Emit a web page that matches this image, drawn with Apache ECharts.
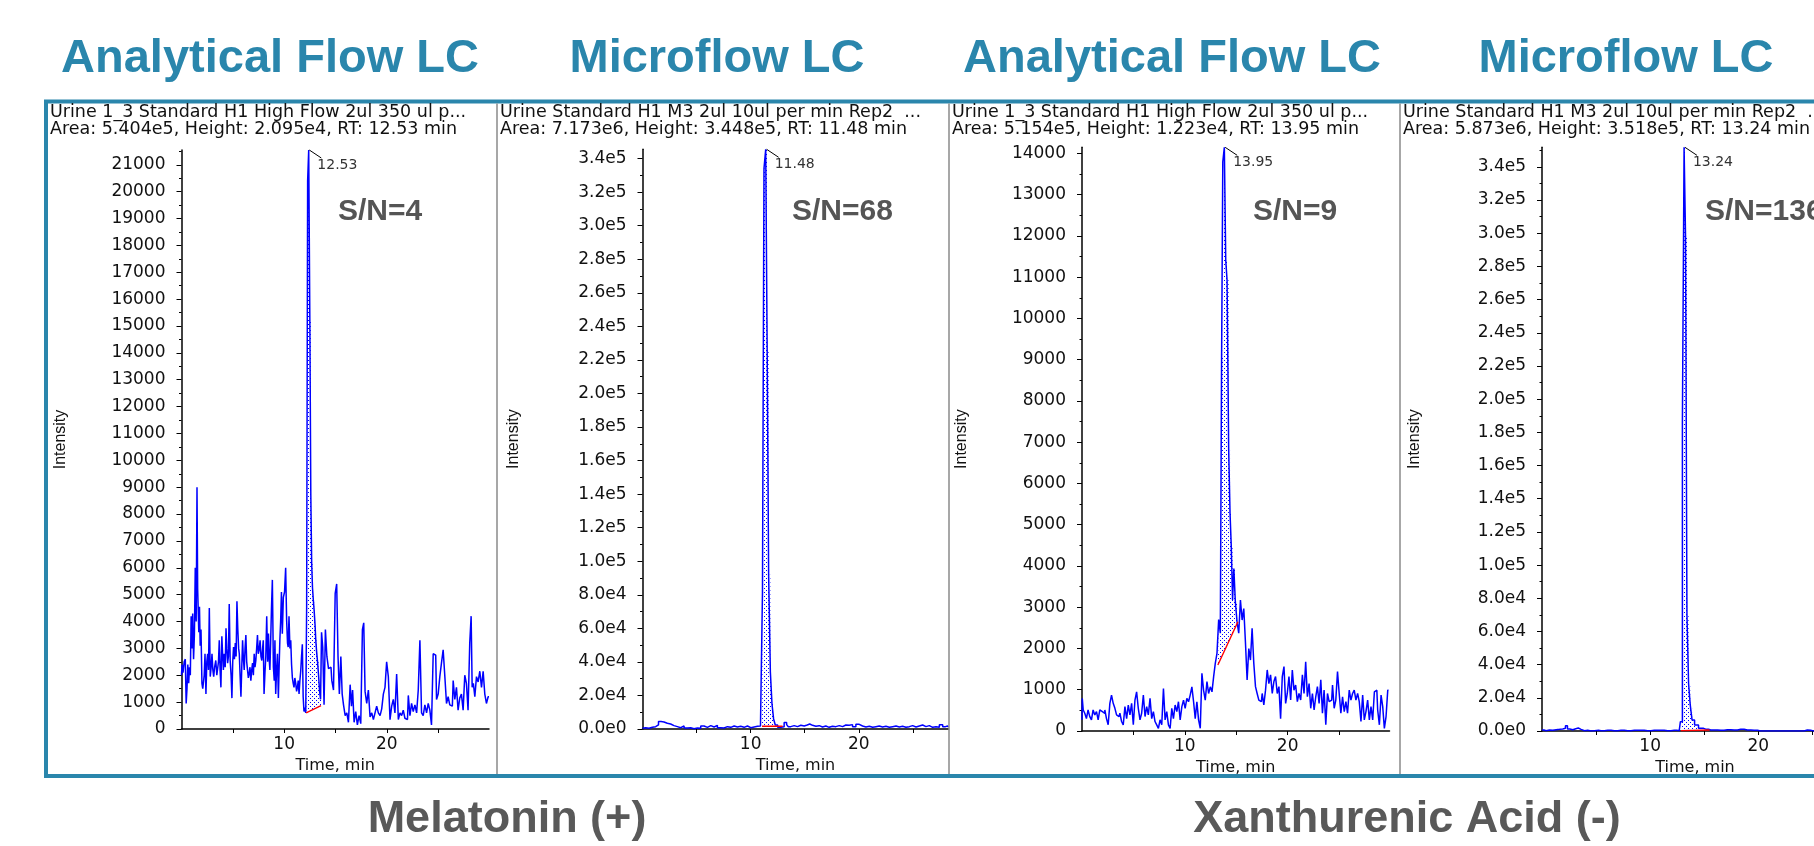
<!DOCTYPE html>
<html>
<head>
<meta charset="utf-8">
<script src="https://cdn.jsdelivr.net/npm/echarts@6/dist/echarts.min.js"></script>
<style>
html, body { margin: 0; padding: 0; background: #fff; }
#chart { width: 1814px; height: 846px; }
</style>
</head>
<body>
<div id="chart"></div>
<script>
// ---- data: [time (min), intensity (cps)] ----
var melAnalytical = [
  [0.00,2000],[0.10,2400],[0.20,2100],[0.32,2500],[0.42,2600],[0.49,950],[0.58,1500],[0.65,2400],[0.75,1700],[0.81,2300],
  [0.91,2000],[0.97,4200],[1.05,3000],[1.13,4300],[1.22,2600],[1.29,3500],[1.39,6000],[1.47,4000],[1.55,9000],[1.60,5200],
  [1.65,5200],[1.72,3600],[1.78,4550],[1.86,3100],[1.94,3700],[2.04,1700],[2.10,1500],[2.17,1450],[2.25,2000],[2.33,2800],
  [2.43,1300],[2.50,2500],[2.59,2800],[2.67,2200],[2.75,4500],[2.85,1950],[2.93,2300],[3.01,2800],[3.10,2200],[3.17,1950],
  [3.28,2300],[3.40,2550],[3.48,2000],[3.56,2050],[3.64,2500],[3.72,3300],[3.80,2200],[3.88,1550],[3.98,3450],[4.05,2700],
  [4.11,2200],[4.21,2800],[4.30,2300],[4.37,3750],[4.45,3000],[4.53,2450],[4.61,2700],[4.69,4650],[4.79,2550],[4.87,2000],
  [4.95,1150],[5.03,2500],[5.11,3050],[5.20,2600],[5.28,3200],[5.36,2700],[5.44,4750],[5.53,3700],[5.60,3000],[5.66,2800],
  [5.75,2000],[5.83,1200],[5.91,2300],[5.99,3300],[6.07,2600],[6.15,2200],[6.23,3000],[6.31,3500],[6.39,2500],[6.47,2200],
  [6.55,1900],[6.63,2050],[6.71,2300],[6.80,1800],[6.88,2200],[6.96,2450],[7.04,2000],[7.12,2800],[7.20,2300],[7.28,2550],
  [7.36,3000],[7.44,3500],[7.52,2800],[7.61,2950],[7.70,3300],[7.78,2700],[7.86,2550],[7.94,3000],[7.99,3300],[8.09,1300],
  [8.17,2100],[8.25,2700],[8.35,4200],[8.43,2500],[8.51,3550],[8.58,2600],[8.64,2200],[8.72,3200],[8.80,4450],[8.90,5550],
  [9.00,2300],[9.07,1800],[9.13,3300],[9.22,1300],[9.30,2200],[9.39,2800],[9.48,1150],[9.55,2400],[9.61,3300],[9.70,4000],
  [9.77,5100],[9.87,3550],[9.97,4900],[10.10,5100],[10.19,6000],[10.29,4050],[10.36,3200],[10.42,3050],[10.52,4200],[10.60,3000],
  [10.68,3300],[10.76,2400],[10.84,1900],[10.92,1700],[11.00,1550],[11.08,1900],[11.17,1700],[11.25,1400],[11.33,1550],[11.41,1800],
  [11.49,1300],[11.57,1800],[11.65,2150],[11.73,2700],[11.81,3150],[11.89,1200],[11.97,650],[12.06,800],[12.14,600],[12.24,4550],
  [12.33,20400],[12.45,21550],[12.55,15200],[12.64,8700],[12.72,6150],[12.80,5250],[12.88,4800],[12.96,4400],[13.05,3900],[13.11,3300],
  [13.20,2900],[13.30,2500],[13.40,2000],[13.50,1400],[13.59,1100],[13.69,3600],[13.82,3050],[13.95,900],[14.08,3700],[14.24,2700],
  [14.40,2250],[14.56,2300],[14.72,1800],[14.89,1450],[15.05,5050],[15.18,5400],[15.31,2700],[15.44,1300],[15.60,2700],[15.70,1300],
  [15.86,900],[16.02,500],[16.18,600],[16.34,250],[16.51,1650],[16.60,850],[16.73,1450],[16.89,250],[17.05,650],[17.21,150],
  [17.38,500],[17.54,200],[17.70,3700],[17.80,3950],[17.96,1400],[18.12,950],[18.28,1450],[18.45,450],[18.61,600],[18.77,350],
  [18.93,600],[19.09,850],[19.26,600],[19.42,500],[19.58,750],[19.74,1300],[19.90,1550],[20.06,2500],[20.23,1950],[20.39,350],
  [20.55,850],[20.71,1100],[20.87,600],[21.04,2050],[21.20,350],[21.36,600],[21.52,500],[21.68,700],[21.84,400],[22.01,350],
  [22.17,1250],[22.33,500],[22.49,950],[22.65,650],[22.82,900],[22.98,600],[23.14,1450],[23.30,3300],[23.46,600],[23.62,500],
  [23.79,900],[23.95,600],[24.11,950],[24.27,700],[24.43,150],[24.60,2800],[24.76,2750],[24.92,1100],[25.08,1300],[25.24,1950],
  [25.40,2450],[25.57,2950],[25.73,1950],[25.89,950],[26.05,1200],[26.21,900],[26.38,850],[26.54,1800],[26.70,1100],[26.86,1550],
  [27.02,700],[27.18,1150],[27.35,1300],[27.51,700],[27.67,2000],[27.83,1700],[27.99,700],[28.16,3200],[28.26,4200],[28.36,1550],
  [28.49,1700],[28.65,1200],[28.81,1950],[28.97,1750],[29.14,2150],[29.30,1550],[29.46,2150],[29.62,1300],[29.78,950],[29.95,1200]
];

var melMicro = [
  [0.00,400],[0.14,800],[0.45,400],[0.76,1000],[1.06,1400],[1.37,2400],[1.59,4400],[1.84,4200],[2.14,3400],[2.45,3000],
  [2.76,2000],[3.07,1400],[3.38,800],[3.69,1800],[4.00,600],[4.31,800],[4.61,200],[4.92,600],[5.23,400],[5.54,1800],
  [5.85,1000],[6.16,2000],[6.47,1200],[6.77,2200],[7.08,800],[7.39,600],[7.70,1400],[8.01,1000],[8.32,1800],[8.63,1200],
  [8.93,1600],[9.24,1000],[9.55,1800],[9.86,800],[10.17,1200],[10.48,1600],[10.79,1800],[11.03,1500],[11.16,81000],[11.31,334000],
  [11.48,345500],[11.58,226000],[11.75,92000],[11.90,34000],[12.05,15000],[12.20,6000],[12.36,2400],[12.64,1000],[12.95,1400],[13.25,3800],
  [13.41,2600],[13.56,1400],[13.87,2000],[14.18,1400],[14.49,2200],[14.80,1800],[15.11,2400],[15.36,3000],[15.57,2200],[15.88,1600],
  [16.19,2000],[16.50,1200],[16.80,1800],[17.11,1000],[17.42,1600],[17.73,1400],[18.04,2000],[18.35,1400],[18.66,2400],[18.96,2200],
  [19.27,2600],[19.58,1400],[19.89,2800],[20.20,1800],[20.51,1200],[20.82,1600],[21.13,1000],[21.44,1400],[21.74,1800],[22.05,1200],
  [22.36,1600],[22.67,1000],[22.98,1400],[23.29,1800],[23.60,1200],[23.90,1600],[24.21,1000],[24.52,1400],[24.83,2000],[25.14,1200],
  [25.45,1800],[25.76,2400],[26.06,1400],[26.37,2000],[26.68,1000],[26.99,1400],[27.30,1000],[27.61,2600],[27.92,1400],[28.13,1800],[28.30,1200]
];

var xanAnalytical = [
  [0.00,270],[0.05,790],[0.19,510],[0.35,430],[0.51,300],[0.67,510],[0.84,350],[1.00,270],[1.16,510],[1.33,390],
  [1.49,470],[1.65,270],[1.81,510],[1.98,470],[2.14,430],[2.30,510],[2.46,300],[2.63,150],[2.79,670],[2.95,870],
  [3.12,670],[3.28,550],[3.44,390],[3.60,350],[3.77,430],[3.93,230],[4.09,150],[4.26,590],[4.42,300],[4.58,630],
  [4.74,390],[4.91,670],[5.07,150],[5.23,750],[5.39,950],[5.56,550],[5.72,270],[5.88,430],[6.05,870],[6.21,350],
  [6.37,590],[6.53,390],[6.70,790],[6.86,300],[7.02,470],[7.18,230],[7.35,150],[7.51,65],[7.67,270],[7.84,150],
  [8.00,1030],[8.16,270],[8.32,470],[8.49,150],[8.65,65],[8.81,550],[8.97,300],[9.14,630],[9.30,470],[9.46,710],
  [9.63,270],[9.79,590],[9.95,750],[10.11,550],[10.28,790],[10.44,710],[10.60,870],[10.77,1070],[10.93,710],[11.09,300],
  [11.25,710],[11.42,270],[11.58,65],[11.74,1400],[11.90,990],[12.07,750],[12.23,1200],[12.39,910],[12.56,1070],[12.72,950],
  [12.88,1320],[13.04,1640],[13.21,1880],[13.37,2700],[13.53,2370],[13.62,9070],[13.76,13800],[13.92,14150],[14.03,11420],[14.18,10930],
  [14.34,6850],[14.45,5280],[14.58,4470],[14.70,3175],[14.83,3940],[14.99,3135],[15.16,2650],[15.32,2370],[15.49,3175],[15.65,2690],
  [15.81,2970],[15.97,2165],[16.14,1240],[16.30,2000],[16.46,1720],[16.62,2490],[16.79,1640],[16.95,1075],[17.11,910],[17.28,750],
  [17.44,710],[17.60,910],[17.76,630],[17.93,990],[18.09,1480],[18.25,1150],[18.42,1360],[18.58,910],[18.74,1200],[18.90,1320],
  [19.07,910],[19.23,1075],[19.39,300],[19.56,1320],[19.72,1560],[19.88,670],[20.04,910],[20.21,1320],[20.37,750],[20.53,1480],
  [20.69,990],[20.86,1115],[21.02,710],[21.18,910],[21.35,750],[21.51,1360],[21.67,910],[21.83,1680],[22.00,830],[22.16,1150],
  [22.32,550],[22.49,910],[22.65,510],[22.81,830],[22.97,1075],[23.14,670],[23.30,1240],[23.46,430],[23.62,990],[23.79,150],
  [23.95,910],[24.11,710],[24.28,750],[24.44,1115],[24.60,550],[24.76,750],[24.93,1440],[25.09,910],[25.25,430],[25.42,830],
  [25.58,470],[25.74,710],[25.90,430],[26.07,990],[26.23,750],[26.39,910],[26.55,990],[26.72,750],[26.88,910],[27.04,710],
  [27.21,230],[27.37,870],[27.53,270],[27.69,470],[27.86,750],[28.02,270],[28.18,590],[28.35,270],[28.51,950],[28.67,990],
  [28.83,510],[29.00,150],[29.16,870],[29.32,590],[29.48,65],[29.65,350],[29.81,990]
];

var xanMicro = [
  [0.00,600],[0.38,200],[0.69,600],[1.00,400],[1.31,800],[1.62,1000],[1.92,1200],[2.08,1600],[2.26,3200],[2.45,1200],
  [2.69,800],[3.00,1400],[3.25,1800],[3.46,1000],[3.77,200],[4.08,400],[4.38,0],[4.69,200],[5.00,400],[5.46,200],
  [6.08,400],[6.69,200],[7.31,400],[7.92,200],[8.54,400],[9.15,400],[9.77,200],[10.38,400],[11.00,400],[11.62,200],
  [12.23,400],[12.69,200],[12.91,5600],[13.06,185000],[13.22,351800],[13.33,298000],[13.48,70000],[13.63,28700],[13.79,15700],[13.97,6600],
  [14.25,3600],[14.70,1600],[15.20,1000],[15.60,600],[15.92,600],[16.54,400],[17.15,800],[17.77,600],[18.38,1000],[19.00,600],
  [19.62,400],[20.23,0],[20.85,0],[21.46,0],[22.08,0],[22.69,0],[23.31,0],[23.92,0],[24.23,0],[24.54,600],
  [24.85,400],[25.10,0],[25.70,200],[26.40,0],[27.10,200],[27.80,0],[28.30,200]
];

// integration baselines (red) under each peak: [start, end]
var peakBaselines = [
  [[12.14,600],[13.59,870]],
  [[11.05,1600],[12.95,1600]],
  [[13.21,1600],[15.16,2650]],
  [[12.85,200],[15.50,600]]
];

var traces = [melAnalytical, melMicro, xanAnalytical, xanMicro];
var xMaxes = [29.95, 28.3, 29.9, 28.3];
var yMajorSteps = [1000, 20000, 1000, 20000];
var xTickValues = [5, 10, 15, 20, 25];
var xLabelValues = [10, 20];
var peakRTs = ['12.53', '11.48', '13.95', '13.24'];
var snTexts = ['S/N=4', 'S/N=68', 'S/N=9', 'S/N=136'];
var headerLine1 = [
  'Urine 1_3 Standard H1 High Flow 2ul 350 ul p...',
  'Urine Standard H1 M3 2ul 10ul per min Rep2  ...',
  'Urine 1_3 Standard H1 High Flow 2ul 350 ul p...',
  'Urine Standard H1 M3 2ul 10ul per min Rep2  ...'
];
var headerLine2 = [
  'Area: 5.404e5, Height: 2.095e4, RT: 12.53 min',
  'Area: 7.173e6, Height: 3.448e5, RT: 11.48 min',
  'Area: 5.154e5, Height: 1.223e4, RT: 13.95 min',
  'Area: 5.873e6, Height: 3.518e5, RT: 13.24 min'
];
var columnTitles = ['Analytical Flow LC', 'Microflow LC', 'Analytical Flow LC', 'Microflow LC'];
var compounds = ['Melatonin (+)', 'Xanthurenic Acid (-)'];

// ---- layout ----
var grids = [
  { left: 181.5, top: 150, width: 307.5, height: 579 },
  { left: 642.5, top: 149.3, width: 306, height: 579.7 },
  { left: 1082, top: 147.3, width: 307.5, height: 583.7 },
  { left: 1542, top: 147.3, width: 306, height: 583.7 }
];
var panelLeft = [47, 497, 949, 1400];
var nameGaps = [113, 121, 112, 119];
var titleCenters = [270, 717, 1172, 1626];
var compoundCenters = [507, 1407];
var snLeft = [338, 792, 1253, 1705];

var TEAL = '#2A86AC';
var BLUE = '#0000FF';

// dotted fill used by the integrated peak area
var dot = document.createElement('canvas');
dot.width = 4; dot.height = 4;
var dctx = dot.getContext('2d');
dctx.fillStyle = BLUE;
dctx.fillRect(0, 0, 1, 1);
dctx.fillRect(2, 2, 1, 1);

function range(a, b, step) {
  var out = [];
  for (var v = a; v <= b + 1e-9; v += step) out.push(v);
  return out;
}
function apexOf(tr) {
  var m = tr[0];
  tr.forEach(function (p) { if (p[1] > m[1]) m = p; });
  return m;
}
function expFmt(v) {
  return v.toExponential(1).replace('+', '');
}

// stepped (step: 'middle') outline in pixels
function stepPts(pts, api) {
  var c = pts.map(function (p) { return api.coord(p); });
  var out = [];
  for (var k = 0; k < c.length; k++) {
    var xl = k > 0 ? (c[k - 1][0] + c[k][0]) / 2 : c[k][0];
    var xr = k < c.length - 1 ? (c[k][0] + c[k + 1][0]) / 2 : c[k][0];
    out.push([xl, c[k][1]], [xr, c[k][1]]);
  }
  return out;
}

var chart = echarts.init(document.getElementById('chart'));

var gridOpt = [], xAxes = [], yAxes = [], series = [];
traces.forEach(function (tr, i) {
  var yMax = apexOf(tr)[1];
  var step = yMajorSteps[i];
  var isExp = (i % 2 === 1);
  gridOpt.push({
    left: grids[i].left, top: grids[i].top, width: grids[i].width, height: grids[i].height,
    containLabel: false, outerBoundsMode: 'none'
  });
  xAxes.push({
    type: 'value', gridIndex: i, min: 0, max: xMaxes[i],
    name: 'Time, min', nameLocation: 'middle', nameGap: 28,
    nameTextStyle: { fontFamily: 'DejaVu Sans', fontSize: 16, color: '#111' },
    axisLine: { show: true, lineStyle: { color: '#000', width: 1.5 } },
    axisTick: { show: true, customValues: xTickValues, length: 4, lineStyle: { color: '#000' } },
    axisLabel: { customValues: xLabelValues, margin: 7, fontFamily: 'DejaVu Sans', fontSize: 17, color: '#111' },
    splitLine: { show: false }
  });
  yAxes.push({
    type: 'value', gridIndex: i, min: 0, max: yMax, position: 'left',
    name: 'Intensity', nameLocation: 'middle', nameRotate: 90, nameGap: nameGaps[i],
    nameTextStyle: { fontFamily: 'Liberation Sans', fontSize: 16, color: '#111' },
    axisLine: { show: true, lineStyle: { color: '#000', width: 1.5 } },
    axisTick: { show: true, customValues: range(0, yMax, step), length: 5, lineStyle: { color: '#000' } },
    axisLabel: {
      customValues: range(0, yMax, step), margin: 16,
      fontFamily: 'DejaVu Sans', fontSize: 17, color: '#111',
      formatter: isExp ? expFmt : function (v) { return String(v); }
    },
    splitLine: { show: false }
  });
  yAxes.push({
    type: 'value', gridIndex: i, min: 0, max: yMax, position: 'left',
    axisLine: { show: false },
    axisTick: { show: true, customValues: range(step / 2, yMax, step), length: 2.5, lineStyle: { color: '#000' } },
    axisLabel: { show: false },
    splitLine: { show: false }
  });

  var b = peakBaselines[i];
  var region = tr.filter(function (p) { return p[0] >= b[0][0] && p[0] <= b[1][0]; });
  series.push({
    type: 'custom', xAxisIndex: i, yAxisIndex: 2 * i, silent: true, z: 2,
    data: [[b[0][0], b[0][1]]],
    renderItem: function (params, api) {
      var pts = [api.coord(b[0])].concat(stepPts(region, api), [api.coord(b[1])]);
      return {
        type: 'polygon', shape: { points: pts },
        style: { fill: { image: dot, repeat: 'repeat' }, stroke: null }
      };
    }
  });
  series.push({
    type: 'line', xAxisIndex: i, yAxisIndex: 2 * i, data: tr, step: 'middle',
    showSymbol: false, symbol: 'none', z: 3, sampling: null,
    lineStyle: { color: BLUE, width: 1.5 }
  });
  series.push({
    type: 'line', xAxisIndex: i, yAxisIndex: 2 * i, data: b,
    showSymbol: false, symbol: 'none', z: 4,
    lineStyle: { color: '#FF0000', width: 1.4 }
  });
});

chart.setOption({
  backgroundColor: '#fff',
  animation: false,
  grid: gridOpt,
  xAxis: xAxes,
  yAxis: yAxes,
  series: series
});

// ---- annotations ----
var graphics = [];
graphics.push({
  type: 'rect', shape: { x: 46, y: 101.5, width: 1830, height: 674.5 },
  style: { fill: null, stroke: TEAL, lineWidth: 4 }, z: 10
});
[497, 949, 1400].forEach(function (x) {
  graphics.push({
    type: 'line', shape: { x1: x, y1: 103.5, x2: x, y2: 774 },
    style: { stroke: '#8a8a8a', lineWidth: 1.5 }, z: 10
  });
});
columnTitles.forEach(function (t, i) {
  graphics.push({
    type: 'text', x: titleCenters[i], y: 59, z: 10,
    style: { text: t, font: 'bold 47px "Liberation Sans", Arial, sans-serif', fill: TEAL, align: 'center', verticalAlign: 'middle' }
  });
});
compounds.forEach(function (t, i) {
  graphics.push({
    type: 'text', x: compoundCenters[i], y: 820, z: 10,
    style: { text: t, font: 'bold 45px "Liberation Sans", Arial, sans-serif', fill: '#595959', align: 'center', verticalAlign: 'middle' }
  });
});
traces.forEach(function (tr, i) {
  graphics.push({
    type: 'text', x: panelLeft[i] + 3, y: 112, z: 10,
    style: { text: headerLine1[i], font: '17.5px "DejaVu Sans", sans-serif', fill: '#111', align: 'left', verticalAlign: 'middle' }
  });
  graphics.push({
    type: 'text', x: panelLeft[i] + 3, y: 129.5, z: 10,
    style: { text: headerLine2[i], font: '17.5px "DejaVu Sans", sans-serif', fill: '#111', align: 'left', verticalAlign: 'middle' }
  });
  graphics.push({
    type: 'text', x: snLeft[i], y: 212, z: 10,
    style: { text: snTexts[i], font: 'bold 30px "Liberation Sans", Arial, sans-serif', fill: '#555', align: 'left', verticalAlign: 'middle' }
  });
  var ap = chart.convertToPixel({ xAxisIndex: i, yAxisIndex: 2 * i }, apexOf(tr));
  graphics.push({
    type: 'line', shape: { x1: ap[0], y1: ap[1], x2: ap[0] + 12, y2: ap[1] + 8 },
    style: { stroke: '#000', lineWidth: 1 }, z: 10
  });
  graphics.push({
    type: 'text', x: ap[0] + 8, y: ap[1] + 15, z: 10,
    style: { text: peakRTs[i], font: '14px "DejaVu Sans", sans-serif', fill: '#333', align: 'left', verticalAlign: 'middle' }
  });
});

chart.setOption({ graphic: graphics });
</script>
</body>
</html>
